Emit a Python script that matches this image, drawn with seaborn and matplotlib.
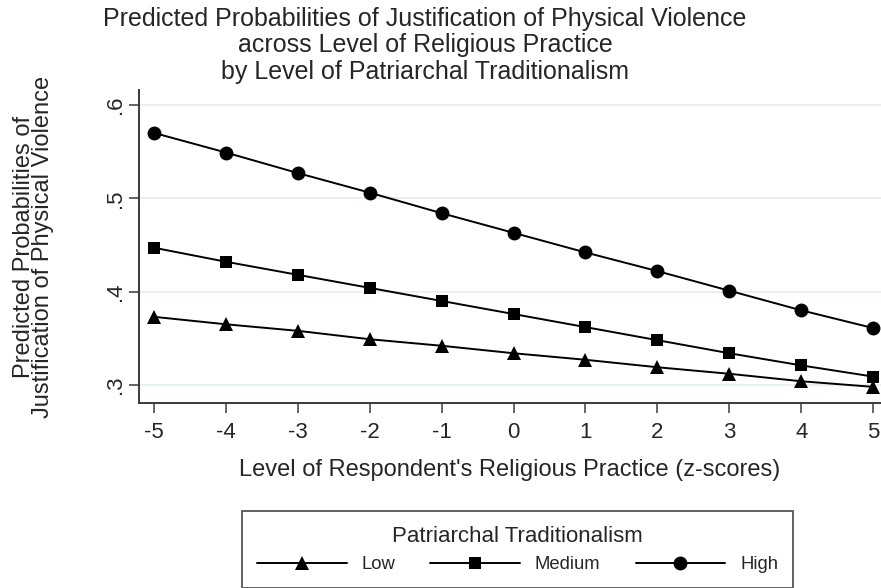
import matplotlib
matplotlib.use("Agg")
import matplotlib.pyplot as plt
import seaborn as sns
import pandas as pd

sns.set_theme(style="white")
plt.rcParams["font.family"] = ["Liberation Sans", "DejaVu Sans"]

religious_practice = [-5, -4, -3, -2, -1, 0, 1, 2, 3, 4, 5]
prob_low = [0.373, 0.365, 0.358, 0.349, 0.342, 0.334, 0.327, 0.319, 0.312, 0.304, 0.298]
prob_medium = [0.447, 0.432, 0.418, 0.404, 0.390, 0.376, 0.362, 0.348, 0.334, 0.321, 0.309]
prob_high = [0.570, 0.549, 0.527, 0.506, 0.484, 0.463, 0.442, 0.422, 0.401, 0.380, 0.361]
levels = ["Low", "Medium", "High"]
y_ticks = [0.3, 0.4, 0.5, 0.6]
y_tick_labels = [".3", ".4", ".5", ".6"]

df = pd.DataFrame({
    "x": religious_practice * 3,
    "p": prob_low + prob_medium + prob_high,
    "level": [lv for lv in levels for _ in religious_practice],
})

W, H = 881, 588
fig = plt.figure(figsize=(W / 100, H / 100), dpi=100)
ax = fig.add_axes([139 / W, 1 - 403 / H, (W - 139) / W, (403 - 90) / H])

markers = {"Low": "^", "Medium": "s", "High": "o"}
sizes = {"Low": 10.5, "Medium": 9, "High": 10}
for lv in levels:
    sub = df[df["level"] == lv]
    sns.lineplot(data=sub, x="x", y="p", ax=ax, color="black", linewidth=1.4,
                 marker=markers[lv], markersize=sizes[lv], markeredgewidth=0,
                 label=lv, legend=False, clip_on=False, zorder=3)

ax.set_xlim(-5.21, 5.11)
ax.set_ylim(0.2807, 0.616)
ax.set_xticks(religious_practice)
ax.set_xticklabels([str(v) for v in religious_practice], fontsize=16)
ax.set_yticks(y_ticks)
ax.set_yticklabels(y_tick_labels, fontsize=16, rotation=90, va="center")
for yv in y_ticks:
    ax.axhline(yv, color="#e6eff1", linewidth=1.3, zorder=0)

for side in ["top", "right"]:
    ax.spines[side].set_visible(False)
for side in ["left", "bottom"]:
    ax.spines[side].set_color("#3a3a3a")
    ax.spines[side].set_linewidth(1.4)
ax.tick_params(axis="both", which="both", direction="out", length=7.5, width=1.1,
               color="#3a3a3a", left=True, bottom=True)
ax.tick_params(axis="x", pad=6)
ax.tick_params(axis="y", pad=2)

ax.set_xlabel("Level of Respondent's Religious Practice (z-scores)", fontsize=17, labelpad=12)
ax.set_ylabel("Predicted Probabilities of\nJustification of Physical Violence", fontsize=17,
              linespacing=0.85)
ax.yaxis.set_label_coords(-85 / (W - 139), 0.5)

fig.text(425 / W, 1 - 7 / H, "Predicted Probabilities of Justification of Physical Violence\n"
         "across Level of Religious Practice\nby Level of Patriarchal Traditionalism",
         ha="center", va="top", fontsize=18, linespacing=1.12)

handles, labels = ax.get_legend_handles_labels()
leg = fig.legend(handles, labels, loc="upper left", bbox_to_anchor=(242 / W, 1 - 511 / H),
                 ncol=3, title="Patriarchal Traditionalism", fontsize=13.3, title_fontsize=16,
                 frameon=True, fancybox=False, edgecolor="#3a3a3a", handlelength=4.86,
                 columnspacing=1.9, handletextpad=0.8, borderpad=0.8, borderaxespad=0,
                 markerscale=1.0)
leg.get_frame().set_linewidth(1.4)

fig.savefig("out.png", dpi=100, facecolor="white")
